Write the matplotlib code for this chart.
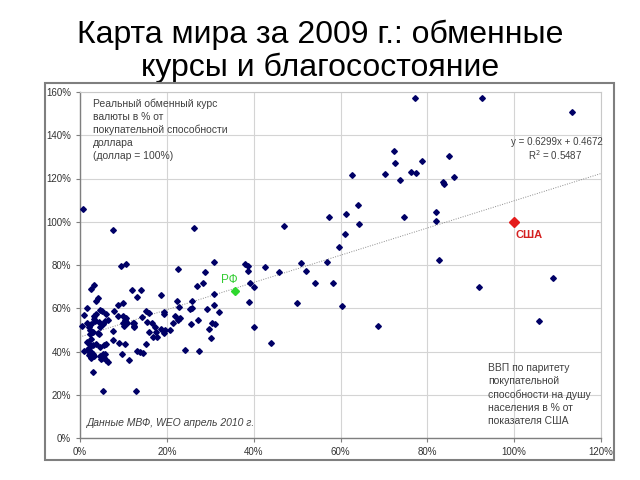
import numpy as np
import matplotlib
matplotlib.use('Agg')
import matplotlib.pyplot as plt
from matplotlib.patches import Rectangle
from matplotlib.ticker import FuncFormatter, MultipleLocator

plt.rcParams['font.family'] = ['Liberation Sans', 'DejaVu Sans']

# GDP per capita (PPP, % of USA) vs real exchange rate (% of dollar PPP)
gdp = [
    0.8, 7.7, 9.4, 10.6, 22.6, 26.2, 28.9, 30.8, 38.1, 38.7, 38.6, 42.7, 45.8, 47.1, 50.8, 52.0, 57.0, 57.4,
    77.2, 92.7, 113.3, 72.3, 72.5, 78.7, 85.1, 62.6, 70.2, 76.2, 77.5, 73.6, 83.7, 83.9, 86.1, 64.0, 61.3,
    64.3, 74.6, 82.0, 82.0, 61.0, 59.6, 82.6, 108.9,
    58.3, 60.3, 68.7, 92.0, 105.8,
    54.1, 39.2, 40.1, 38.9, 40.1, 44.0, 50.0,
    28.4, 26.9, 30.9, 30.9, 30.5, 31.2, 32.1, 29.2, 29.6, 30.1, 27.3, 24.1,
    22.3, 22.8, 21.9, 23.1, 22.6, 21.4, 25.7, 25.7, 25.3, 25.6, 27.1, 20.7, 19.6, 18.7, 19.4, 19.3, 19.3, 18.7,
    15.9, 15.1, 15.5, 16.5, 17.2, 17.5, 17.8, 15.8, 14.3, 14.1, 11.9, 13.2, 12.1, 12.4, 13.2, 13.9, 14.5, 15.2,
    13.0, 5.4, 3.1, 11.2, 9.7, 8.9, 7.6, 10.3, 7.7, 7.8, 8.8, 10.0, 8.8, 9.8, 10.4, 9.8, 10.8, 10.2, 10.6,
    2.5, 3.3, 4.1, 3.8, 4.6, 5.1, 6.1, 3.8, 1.6, 0.9, 3.3, 3.2, 0.5, 1.6, 2.0, 2.6, 3.4, 4.3, 5.2, 5.8, 6.4,
    4.7, 2.2, 3.1, 4.1, 2.2, 2.6, 1.7, 2.3, 3.1, 3.8, 0.9, 1.5, 2.1, 2.6, 2.0, 3.0, 2.6, 3.3, 4.6, 4.8, 5.5,
    5.2, 5.7, 6.1, 6.5, 5.5, 6.1, 4.6, 4.4, 16.9, 12.5, 12.5,
]
rate = [
    105.8, 96.2, 79.5, 80.5, 78.1, 97.0, 76.9, 81.5, 80.5, 79.7, 77.4, 78.9, 76.9, 98.2, 81.1, 77.2, 81.5, 102.2,
    157.2, 157.2, 150.6, 132.6, 127.0, 128.2, 130.2, 121.8, 122.1, 123.0, 122.4, 119.4, 118.5, 117.3, 120.8, 107.6, 103.7,
    99.1, 102.2, 104.4, 100.2, 94.5, 88.3, 82.3, 74.0,
    71.8, 61.0, 51.6, 70.0, 54.0,
    71.8, 71.8, 69.7, 62.7, 51.5, 44.1, 62.4,
    71.5, 70.1, 66.6, 61.4, 53.3, 52.7, 58.4, 59.7, 50.4, 46.1, 40.1, 40.5,
    63.5, 60.4, 56.6, 55.6, 54.6, 53.0, 63.2, 60.1, 59.5, 52.7, 54.6, 49.9, 49.9, 50.2, 48.7, 58.4, 57.3, 66.1,
    57.9, 58.7, 53.5, 53.0, 51.2, 49.0, 46.9, 49.2, 56.0, 68.6, 68.3, 65.1, 53.0, 52.0, 40.4, 39.9, 39.4, 43.3,
    21.9, 21.9, 30.6, 36.3, 38.9, 44.1, 45.1, 43.4, 49.7, 58.9, 61.3, 62.6, 56.6, 56.3, 54.6, 53.2, 53.2, 51.8, 55.3,
    69.1, 70.6, 64.6, 63.4, 59.2, 58.6, 57.4, 57.4, 60.2, 56.9, 56.3, 55.2, 51.6, 53.3, 51.5, 52.5, 54.3, 53.6, 52.6, 54.2, 54.6,
    51.5, 49.9, 49.0, 48.5, 48.0, 45.8, 44.4, 43.1, 43.1, 43.4, 40.2, 40.5, 41.4, 40.0, 38.5, 38.8, 37.2, 37.8, 38.1, 36.7, 37.2,
    38.8, 38.8, 35.9, 35.1, 43.1, 43.4, 42.2, 48.1, 46.9, 53.3, 51.2,
]

usa = (100.0, 100.0)
rf = (35.7, 67.8)

# trend line from the chart label: y = 0.6299x + 0.4672
slope = 0.6299
intercept = 0.4672
trend_x = np.array([0.0, 1.2])

fig = plt.figure(figsize=(6.4, 4.8), dpi=100)

# chart frame
fig.patches.append(Rectangle((45 / 640, 1 - 460 / 480), 569 / 640, 377 / 480,
                             transform=fig.transFigure, facecolor='none',
                             edgecolor='#7f7f7f', lw=1.5, zorder=5))

fig.text(0.5, 1 - 43 / 480, 'Карта мира за 2009 г.: обменные',
         ha='center', va='baseline', fontsize=23)
fig.text(0.5, 1 - 76 / 480, 'курсы и благосостояние',
         ha='center', va='baseline', fontsize=23)

ax = fig.add_axes([80 / 640, 1 - 438 / 480, 521 / 640, 346 / 480])
ax.set_xlim(0, 120)
ax.set_ylim(0, 160)
ax.xaxis.set_major_locator(MultipleLocator(20))
ax.yaxis.set_major_locator(MultipleLocator(20))
pct = FuncFormatter(lambda v, p: f'{v:.0f}%')
ax.xaxis.set_major_formatter(pct)
ax.yaxis.set_major_formatter(pct)
ax.grid(True, color='#d4d4d4', lw=0.8)
ax.set_axisbelow(True)
ax.tick_params(labelsize=7, colors='#7f7f7f', labelcolor='#333333', length=3, width=0.8)
for s in ['left', 'bottom']:
    ax.spines[s].set_color('#7f7f7f')
    ax.spines[s].set_linewidth(1.0)
for s in ['top', 'right']:
    ax.spines[s].set_color('#c8c8c8')
    ax.spines[s].set_linewidth(0.8)

ax.plot(trend_x * 100, (slope * trend_x + intercept) * 100, color='#8c8c8c',
        lw=0.7, linestyle=(0, (1, 1.5)), zorder=2)
ax.plot(gdp, rate, 'D', color='#000066', ms=2.9, zorder=3, clip_on=False)
ax.plot(*usa, 'D', color='#e41c1c', ms=5.5, zorder=4)
ax.plot(*rf, 'D', color='#2ed82e', ms=4.5, zorder=4)

ax.text(100.2, 96, 'США', color='#d42020', fontsize=8, fontweight='bold', va='top')
ax.text(34.5, 71.5, 'РФ', color='#33cc33', fontsize=8.5, ha='center', va='baseline')

ax.text(120.3, 137, 'y = 0.6299x + 0.4672', fontsize=7, color='#404040', ha='right', va='center')
ax.text(109.5, 131, 'R$^2$ = 0.5487', fontsize=7, color='#404040', ha='center', va='center')

ax.text(3.0, 157, 'Реальный обменный курс\nвалюты в % от\nпокупательной способности\nдоллара\n(доллар = 100%)',
        fontsize=7.5, color='#404040', va='top', linespacing=1.36)
ax.text(94.0, 34.5, 'ВВП по паритету\nпокупательной\nспособности на душу\nнаселения в % от\nпоказателя США',
        fontsize=7.5, color='#404040', va='top', linespacing=1.36)
ax.text(1.5, 7.0, 'Данные МВФ, WEO апрель 2010 г.', fontsize=7.5, color='#404040',
        style='italic', va='center')

fig.savefig('out.png', dpi=100)
